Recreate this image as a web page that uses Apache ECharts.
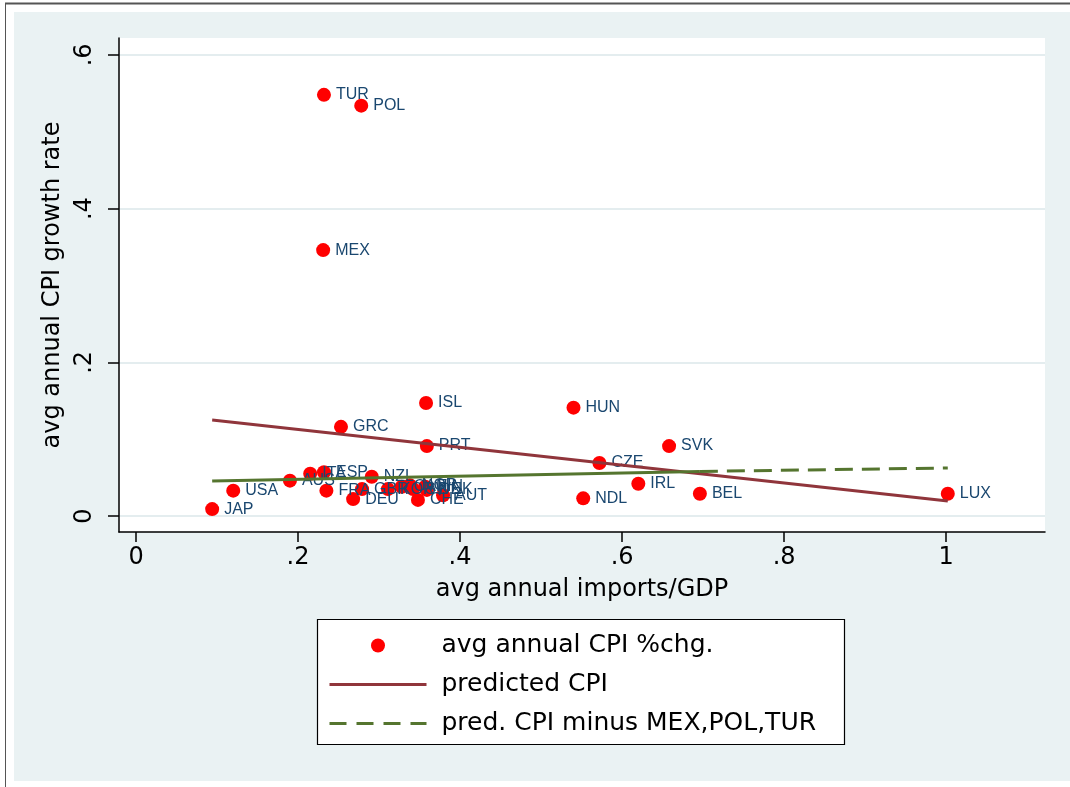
<!DOCTYPE html>
<html><head><meta charset="utf-8">
<script src="https://cdn.jsdelivr.net/npm/echarts@6/dist/echarts.min.js"></script>
<style>html,body{margin:0;padding:0;background:#fff}#c{width:1070px;height:787px}</style>
</head><body><div id="c"></div>
<script>
const countries = ['TUR','POL','MEX','ISL','HUN','GRC','PRT','SVK','CZE','IRL','BEL','NDL','LUX','USA','JAP','AUS','ITA','ESP','NZL','FRA','DEU','GBR','KOR','CAN','NOR','SWE','FIN','DNK','CHE','AUT'];
const imports = [0.232,0.278,0.231,0.358,0.540,0.253,0.359,0.658,0.572,0.620,0.696,0.552,1.002,0.120,0.094,0.190,0.215,0.232,0.291,0.235,0.268,0.279,0.311,0.328,0.338,0.342,0.357,0.359,0.348,0.379];
const cpi = [0.548,0.534,0.346,0.147,0.141,0.116,0.091,0.091,0.069,0.042,0.029,0.023,0.029,0.033,0.009,0.046,0.055,0.057,0.051,0.033,0.022,0.035,0.035,0.038,0.040,0.035,0.038,0.034,0.021,0.027];
const predX = [0.094, 1.002];
const predY = [0.125, 0.0195];
const predMinusX = [0.094, 0.696, 1.002];
const predMinusY = [0.0456, 0.058, 0.0625];
const xTicks = [0, 0.2, 0.4, 0.6, 0.8, 1];
const yTicks = [0, 0.2, 0.4, 0.6];

const FONT = 'DejaVu Sans';
const fmt = v => (v === 0 ? '0' : (v === 1 ? '1' : String(+v.toFixed(1)).replace(/^0/, '')));
const hideSym = {color: 'rgba(0,0,0,0)', borderWidth: 0, opacity: 0};

const chart = echarts.init(document.getElementById('c'), null, {renderer: 'canvas'});
chart.setOption({
  backgroundColor: '#ffffff',
  animation: false,
  graphic: [
    {type: 'rect', z: -10, shape: {x: 14, y: 12, width: 1056, height: 769}, style: {fill: '#EAF2F3'}},
    {type: 'line', z: -10, shape: {x1: 5, y1: 3.5, x2: 1070, y2: 3.5}, style: {stroke: '#555', lineWidth: 2}},
    {type: 'line', z: -10, shape: {x1: 5.5, y1: 3, x2: 5.5, y2: 787}, style: {stroke: '#555', lineWidth: 1}},
    {type: 'rect', z: 1, shape: {x: 317.5, y: 619.5, width: 527, height: 125}, style: {fill: '#fff', stroke: '#000', lineWidth: 1.2}}
  ],
  grid: {left: 119, top: 38, right: 25, bottom: 255, show: true, backgroundColor: '#fff', borderWidth: 0},
  legend: {
    orient: 'vertical', left: 328, top: 633, padding: 0, itemGap: 14,
    itemWidth: 97, itemHeight: 14,
    data: [
      {name: 'avg annual CPI %chg.', icon: 'circle'},
      {name: 'predicted CPI', itemStyle: hideSym, lineStyle: {width: 3}},
      {name: 'pred. CPI minus MEX,POL,TUR', itemStyle: hideSym, lineStyle: {width: 3, type: [17, 10]}}
    ],
    textStyle: {fontFamily: FONT, fontSize: 25, color: '#000', lineHeight: 24, padding: [0, 0, 0, 10]}
  },
  xAxis: {
    type: 'value', min: -0.021, max: 1.122,
    name: 'avg annual imports/GDP', nameLocation: 'middle', nameGap: 46,
    nameTextStyle: {fontFamily: FONT, fontSize: 24, color: '#000'},
    axisLine: {show: true, onZero: false, lineStyle: {color: '#000', width: 1.5}},
    axisTick: {show: true, length: 10, lineStyle: {color: '#000', width: 1.5}, customValues: xTicks},
    axisLabel: {fontFamily: FONT, fontSize: 24, color: '#000', margin: 14, customValues: xTicks, formatter: fmt},
    splitLine: {show: false}
  },
  yAxis: {
    type: 'value', min: -0.0208, max: 0.622,
    name: 'avg annual CPI growth rate', nameLocation: 'middle', nameGap: 48,
    nameTextStyle: {fontFamily: FONT, fontSize: 24, color: '#000'},
    axisLine: {show: true, onZero: false, lineStyle: {color: '#000', width: 1.5}},
    axisTick: {show: true, length: 11, lineStyle: {color: '#000', width: 1.5}, customValues: yTicks},
    axisLabel: {fontFamily: FONT, fontSize: 24, color: '#000', margin: 22, rotate: 90, customValues: yTicks, formatter: fmt},
    splitLine: {show: true, lineStyle: {color: '#E4EDEF', width: 2}}
  },
  series: [
    {
      name: 'avg annual CPI %chg.', type: 'scatter', z: 2,
      symbol: 'circle', symbolSize: 14,
      itemStyle: {color: '#FF0000', opacity: 1},
      data: countries.map((c, i) => ({name: c, value: [imports[i], cpi[i]]})),
      label: {show: true, position: 'right', distance: 5, formatter: p => p.name,
        fontFamily: 'Liberation Sans', fontSize: 16, color: '#1A476F'}
    },
    {
      name: 'predicted CPI', type: 'line', z: 3, symbol: 'none',
      lineStyle: {color: '#90353B', width: 3}, itemStyle: {color: '#90353B'},
      data: predX.map((x, i) => [x, predY[i]])
    },
    {
      name: 'pred. CPI minus MEX,POL,TUR', type: 'line', z: 3, symbol: 'none',
      lineStyle: {color: '#55752F', width: 3, type: [18, 9]}, itemStyle: {color: '#55752F'},
      data: predMinusX.slice(1).map((x, i) => [x, predMinusY[i + 1]])
    },
    {
      name: 'pred minus (dense part)', type: 'line', z: 3, symbol: 'none',
      lineStyle: {color: '#55752F', width: 3}, itemStyle: {color: '#55752F'},
      data: predMinusX.slice(0, 2).map((x, i) => [x, predMinusY[i]])
    }
  ]
});
</script></body></html>
